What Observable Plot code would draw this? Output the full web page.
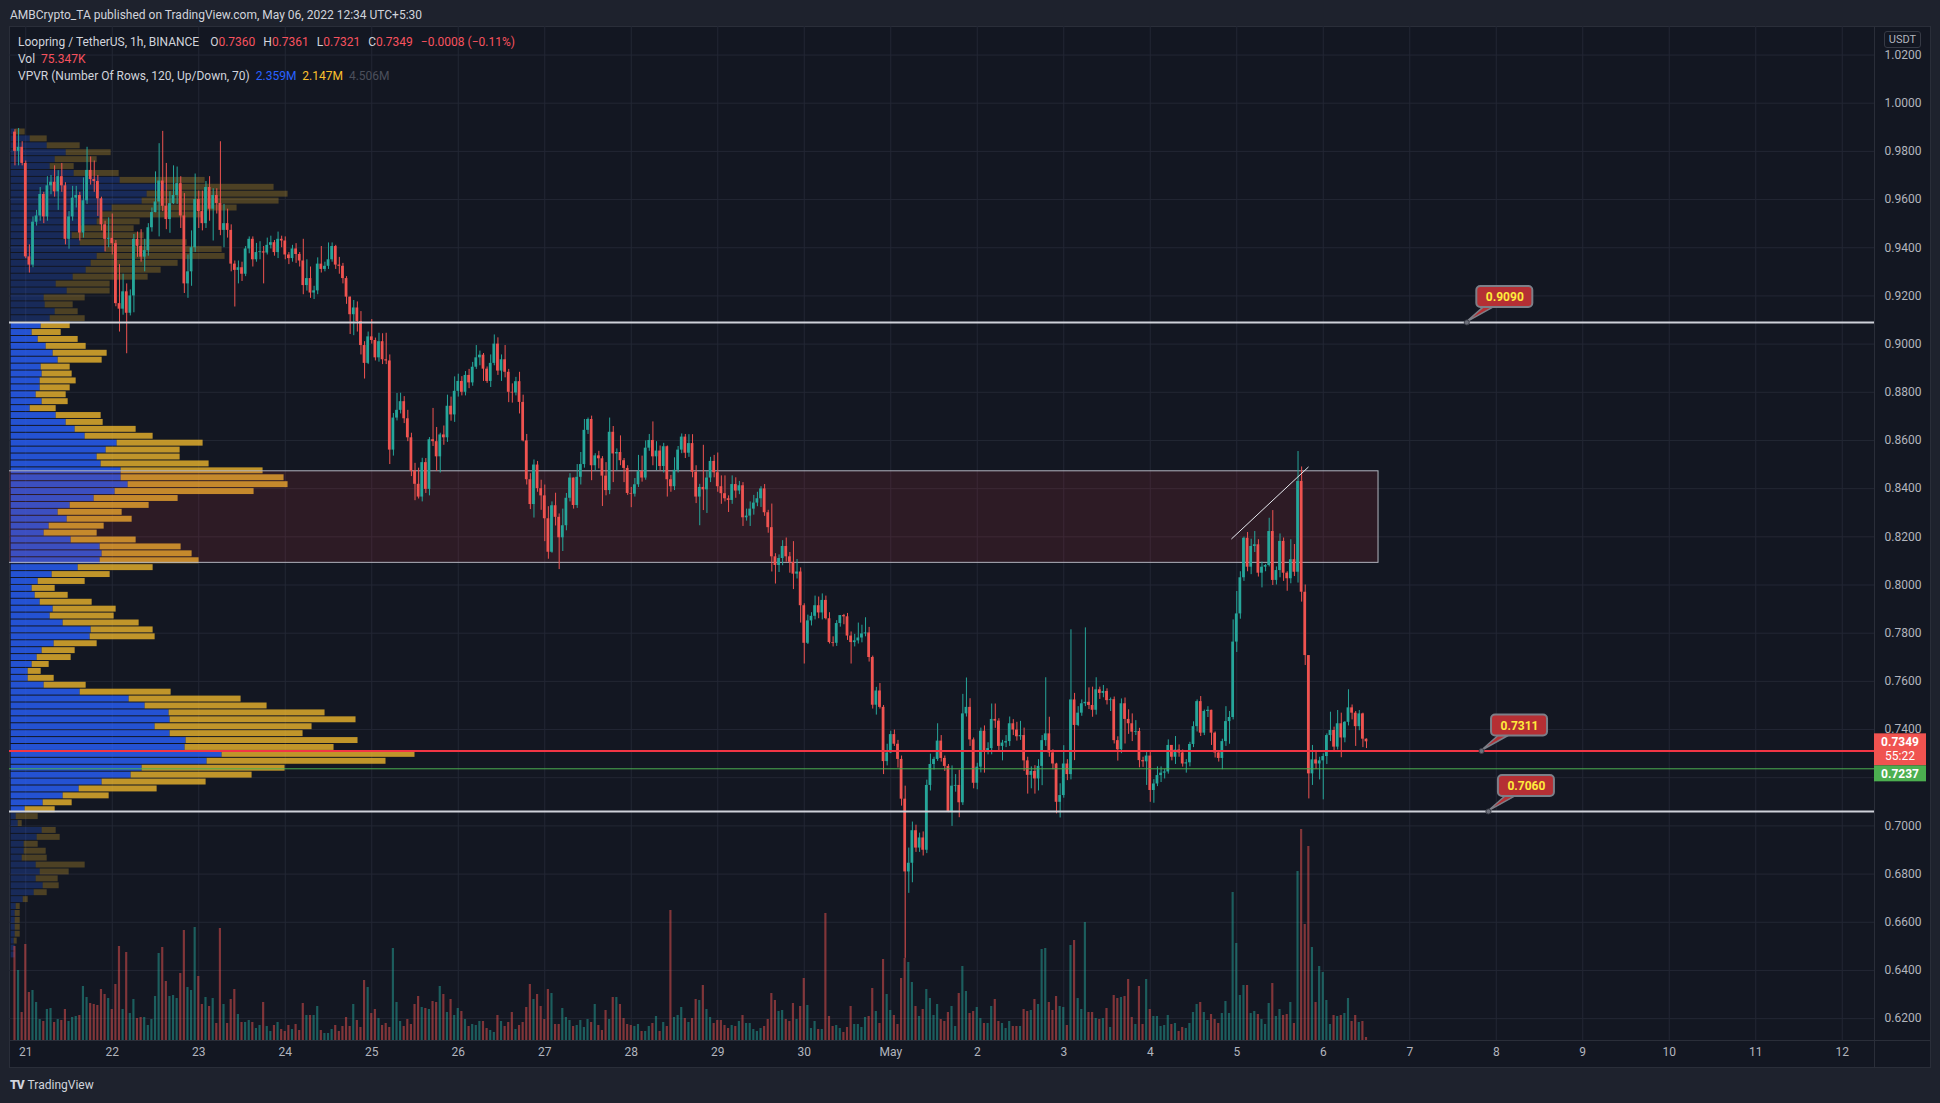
<!DOCTYPE html>
<html>
<head>
<meta charset="utf-8">
<script src="https://cdn.jsdelivr.net/npm/d3@7"></script>
<script src="https://cdn.jsdelivr.net/npm/@observablehq/plot@0.6"></script>
<style>
html, body { margin:0; padding:0; width:1940px; height:1103px; overflow:hidden; background:#1e222d; font-family: Roboto, "Noto Sans", sans-serif; }
#header { position:absolute; left:10px; top:8px; font-size:12px; color:#d1d4dc; white-space:nowrap; }
#pane { position:absolute; left:9px; top:26px; width:1922px; height:1042px; background:#131722; border:1px solid #2a2e39; box-sizing:border-box; }
#sepV { position:absolute; left:1874px; top:27px; width:1px; height:1040px; background:#2a2e39; }
#sepH { position:absolute; left:10px; top:1040px; width:1920px; height:1px; background:#2a2e39; }
.layer { position:absolute; left:0; top:26px; width:1940px; height:1042px; }
.layer svg { display:block; }
#legend { position:absolute; left:18px; top:34px; font-size:12px; line-height:17px; color:#d1d4dc; white-space:nowrap; }
#legend .r { color:#f7525f; }
#legend .b { color:#2962ff; }
#legend .y { color:#fbc02d; }
#legend .g { color:#4b4f5b; }
#legend .gap { display:inline-block; width:8px; }
#usdt { position:absolute; left:1884px; top:31px; width:35px; height:15px; border:1px solid #363a45; border-radius:3px; background:#131722; color:#b2b5be; font-size:11px; line-height:15px; text-align:center; }
#footer { position:absolute; left:10px; top:1078px; font-size:12px; color:#d1d4dc; white-space:nowrap; }
#footer b { font-weight:900; letter-spacing:-1px; margin-right:4px; }
</style>
</head>
<body>
<div id="header">AMBCrypto_TA published on TradingView.com, May 06, 2022 12:34 UTC+5:30</div>
<div id="pane"></div>
<div id="sepV"></div>
<div id="sepH"></div>
<div class="layer" id="l1"></div>
<div class="layer" id="l2"></div>
<div class="layer" id="l3"></div>
<div class="layer" id="l4"></div>
<div id="legend">
<div>Loopring / TetherUS, 1h, BINANCE<span class="gap"></span> O<span class="r">0.7360</span><span class="gap"></span>H<span class="r">0.7361</span><span class="gap"></span>L<span class="r">0.7321</span><span class="gap"></span>C<span class="r">0.7349</span><span class="gap"></span><span class="r">−0.0008 (−0.11%)</span></div>
<div>Vol <span class="r">&nbsp;75.347K</span></div>
<div>VPVR (Number Of Rows, 120, Up/Down, 70)&nbsp; <span class="b">2.359M</span>&nbsp; <span class="y">2.147M</span>&nbsp; <span class="g">4.506M</span></div>
</div>
<div id="usdt">USDT</div>
<div id="footer"><b>TV</b>TradingView</div>
<script>
// ---------------- DATA ----------------
const priceTicks = [0.62,0.64,0.66,0.68,0.70,0.72,0.74,0.76,0.78,0.80,0.82,0.84,0.86,0.88,0.90,0.92,0.94,0.96,0.98,1.00,1.02];
const coveredTickLabels = [0.72];   // hidden under the price labels in the reference
const dayLabels = ["21","22","23","24","25","26","27","28","29","30","May","2","3","4","5","6","7","8","9","10","11","12"];
const firstDayUTC = "2022-04-21T00:00:00Z";
const firstCandleUTC = "2022-04-20T21:00:00Z";   // hourly candles
const firstOpen = 0.988;

const closes = [
0.980,0.9817,0.975,0.9362,0.9328,0.9506,0.9532,0.9621,0.9528,0.9657,
0.9672,0.9632,0.9695,0.9657,0.9435,0.9528,0.9606,0.9617,0.9461,0.9595,
0.9721,0.9683,0.9675,0.9603,0.9495,0.9435,0.9439,0.9417,0.9168,0.9145,
0.9217,0.9128,0.920,0.9435,0.9406,0.9361,0.9388,0.9483,0.9546,0.959,
0.9677,0.9572,0.9517,0.9583,0.9617,0.9666,0.9532,0.925,0.930,0.940,
0.960,0.955,0.950,0.965,0.956,0.9617,0.9584,0.9472,0.950,0.9472,
0.9332,0.9306,0.9317,0.929,0.9395,0.9435,0.935,0.938,0.9383,0.9378,
0.941,0.9421,0.938,0.9435,0.9428,0.937,0.9355,0.9395,0.9372,0.9345,
0.9243,0.9272,0.9212,0.9221,0.9332,0.931,0.9323,0.935,0.9405,0.9328,
0.9323,0.9272,
0.9195,0.9122,0.915,0.9094,0.8994,0.892,0.903,0.9015,0.8943,0.901,
0.8935,0.893,0.856,0.8693,0.8725,0.8761,0.869,0.8611,0.8473,0.8418,
0.8365,0.8508,0.8397,0.8603,0.8595,0.8532,0.8623,0.8611,0.8742,0.8706,
0.8804,0.8845,0.880,0.887,0.8839,0.8904,0.8943,0.8954,0.8896,0.8845,
0.892,0.900,0.8888,0.8935,0.8883,0.880,0.8797,0.8844,0.8758,0.8598,
0.8437,0.8334,0.8498,0.840,0.837,0.8275,0.8136,0.8329,0.8281,0.8196,
0.8246,0.836,0.8444,0.833,0.8447,0.850,0.8642,0.8687,0.8495,0.8536,
0.8524,0.8452,0.8392,0.8634,0.8544,0.855,0.8516,0.8484,0.838,0.8377,
0.8416,0.8471,0.8444,0.8568,0.860,0.8532,0.8556,0.8492,0.8574,0.8437,
0.8408,0.8476,0.856,0.8614,0.8547,0.8587,0.8468,0.8365,0.8405,
0.8395,0.8444,0.8513,0.8466,0.8408,0.8379,0.8358,0.8351,0.8417,0.839,
0.8412,0.8279,0.8286,0.8315,0.834,0.8358,0.8399,0.830,0.8238,0.8117,
0.8081,0.811,0.816,0.8117,0.8094,0.8045,0.8054,0.7914,0.7758,0.7851,
0.787,0.7914,0.7884,0.7936,0.786,0.7761,0.7758,0.784,0.7873,0.7868,
0.7788,0.7761,0.7768,0.778,0.7797,0.7801,0.7699,0.7501,0.756,0.7492,
0.7267,0.7303,0.7379,0.7339,0.7276,0.7111,0.6809,0.6845,0.698,0.6908,
0.695,0.6899,0.7168,0.7255,0.7276,0.7352,0.728,0.7247,0.706,0.7165,
0.7168,0.7096,0.7465,0.7492,0.7357,0.7177,0.7244,0.7393,0.7312,0.7321,
0.7442,0.7435,0.733,0.7344,0.735,0.7424,0.7398,0.737,0.7375,0.727,
0.721,0.7226,0.7195,0.7247,
0.7354,0.7382,0.7303,0.7257,0.7098,0.7126,0.7257,0.7213,0.7523,0.7417,
0.7468,0.7507,0.7513,0.750,0.748,0.7565,0.755,0.7558,0.752,0.7524,
0.7354,0.7316,0.7507,0.7442,0.7424,0.7389,0.7392,0.7271,0.7266,0.729,
0.7147,0.7174,0.7209,0.7219,0.7224,0.7334,0.7285,0.7315,0.7303,0.7257,
0.7262,0.7338,0.7412,0.7516,0.7385,0.7475,0.748,0.7385,0.7303,0.728,
0.735,0.7433,0.745,0.7763,0.788,0.803,0.8194,0.8074,0.816,0.8167,
0.8049,0.8074,0.8081,0.8222,0.8019,0.806,0.8181,0.8049,0.8026,0.8105,
0.8053,0.843,0.797,0.7707,0.7216,0.7274,0.7257,0.727,0.7288,0.7375,
0.7396,0.7327,0.7424,0.7365,0.743,0.749,0.7468,0.7412,0.7465,0.736,
0.7349
];
const highs = [
0.989,0.9895,0.984,0.976,0.9412,0.9528,0.9555,0.965,0.963,0.9695,
0.970,0.974,0.972,0.975,0.967,0.955,0.9655,0.9655,0.963,0.969,
0.9817,0.9777,0.976,0.970,0.961,0.951,0.9524,0.954,0.943,0.933,
0.929,0.925,0.9225,0.9455,0.9465,0.9475,0.9435,0.950,0.9565,0.9715,
0.9832,0.9883,0.975,0.9633,0.974,0.9735,0.9695,0.9625,0.937,0.947,
0.9706,0.9635,0.9635,0.9675,0.9695,0.9645,0.9645,0.984,0.958,0.956,
0.9495,0.9345,0.9345,0.934,0.9405,0.9445,0.9445,0.9418,0.9425,0.9405,
0.944,0.9448,0.943,0.9465,0.9448,0.9445,0.938,0.941,0.9417,0.938,
0.9435,0.935,0.932,0.924,0.9358,0.9405,0.934,0.942,0.942,0.941,
0.936,0.9335,
0.928,0.9195,0.9181,0.9175,0.9135,0.901,0.905,0.9102,0.9025,0.9045,
0.9043,0.9045,0.8955,0.8712,0.8795,0.8796,0.8782,0.8725,0.863,0.8505,
0.8485,0.8526,0.8525,0.8612,0.8733,0.8654,0.863,0.866,0.8788,0.878,
0.8864,0.8875,0.8865,0.8886,0.8895,0.8924,0.8994,0.8971,0.8961,0.8905,
0.8955,0.9038,0.9026,0.8955,0.8994,0.8895,0.8835,0.8862,0.8883,0.8788,
0.8625,0.8462,0.8519,0.8513,0.8435,0.8415,0.8325,0.8345,0.8381,0.8295,
0.8315,0.838,0.8462,0.8416,0.850,0.855,0.8687,0.8693,0.8701,0.8545,
0.8555,0.8533,0.8508,0.8693,0.8658,0.8565,0.8619,0.8525,0.8495,0.8405,
0.8442,0.8538,0.8535,0.8598,0.8625,0.8677,0.8595,0.8577,0.8588,0.8577,
0.8455,0.8528,0.8575,0.8627,0.8625,0.8624,0.8624,0.8495,0.8418,
0.858,0.8471,0.853,0.8538,0.8548,0.8453,0.8453,0.837,0.8453,0.8445,
0.843,0.8425,0.8315,0.8345,0.8372,0.8385,0.8408,0.8417,0.831,0.8336,
0.813,0.8125,0.8184,0.8195,0.8135,0.818,0.8106,0.8071,0.7922,0.7875,
0.7885,0.7954,0.795,0.7963,0.7954,0.7885,0.7785,0.7852,0.7873,0.7878,
0.7882,0.7805,0.7795,0.7842,0.7833,0.7864,0.7824,0.7705,0.7575,0.7591,
0.750,0.7339,0.7393,0.7398,0.7355,0.729,0.7165,0.6908,0.7016,0.7003,
0.697,0.6975,0.719,0.7298,0.7285,0.7424,0.7375,0.729,0.7255,0.7249,
0.7213,0.7231,0.7546,0.7614,0.7528,0.7365,0.726,0.7406,0.7415,0.7345,
0.7506,0.7506,0.7445,0.7355,0.7375,0.7452,0.7441,0.743,0.7434,0.7406,
0.7285,0.7245,0.725,0.7275,
0.7375,0.7615,0.7451,0.7316,0.726,0.7175,0.7333,0.7275,0.7814,0.755,
0.7495,0.7523,0.7822,0.7573,0.7576,0.7615,0.7576,0.7583,0.7569,0.7531,
0.7535,0.737,0.7527,0.7531,0.7482,0.7465,0.7437,0.7405,0.7285,0.7305,
0.731,0.7192,0.7245,0.7245,0.7235,0.7357,0.7334,0.7371,0.7336,0.7315,
0.7275,0.7347,0.7432,0.7523,0.7537,0.7481,0.7495,0.7472,0.739,0.7305,
0.736,0.7495,0.7475,0.7855,0.7973,0.8055,0.8199,0.8218,0.819,0.8222,
0.8188,0.8095,0.8085,0.8277,0.8309,0.8075,0.8212,0.8195,0.8055,0.8188,
0.8168,0.8554,0.849,0.800,0.7705,0.7334,0.7313,0.7285,0.7299,0.7382,
0.7472,0.741,0.7479,0.7468,0.7433,0.7565,0.7502,0.7475,0.7479,0.7468,
0.7361
];
const lows = [
0.974,0.974,0.974,0.9355,0.9295,0.9317,0.949,0.951,0.950,0.951,
0.962,0.961,0.9555,0.963,0.9412,0.9394,0.951,0.9565,0.9428,0.944,
0.958,0.966,0.963,0.953,0.947,0.9383,0.940,0.937,0.9155,0.905,
0.912,0.896,0.9117,0.913,0.936,0.934,0.930,0.9365,0.9465,0.9545,
0.9445,0.955,0.9475,0.946,0.958,0.958,0.948,0.921,0.919,0.924,
0.938,0.948,0.947,0.948,0.951,0.9428,0.954,0.945,0.940,0.944,
0.930,0.9154,0.925,0.926,0.928,0.9375,0.932,0.934,0.935,0.925,
0.937,0.9395,0.9365,0.9355,0.940,0.935,0.933,0.934,0.9335,0.932,
0.9205,0.922,0.919,0.9185,0.9205,0.9295,0.930,0.931,0.934,0.931,
0.929,0.925,
0.9165,0.904,0.9035,0.905,0.8955,0.8855,0.8915,0.900,0.893,0.8925,
0.8915,0.8915,0.850,0.8535,0.8681,0.871,0.867,0.8595,0.845,0.835,
0.8357,0.8345,0.838,0.837,0.8575,0.8472,0.8465,0.858,0.8592,0.868,
0.8675,0.878,0.8785,0.8785,0.8815,0.8825,0.8895,0.891,0.8845,0.8837,
0.882,0.891,0.887,0.8845,0.886,0.8757,0.8755,0.8785,0.871,0.8594,
0.8415,0.8313,0.8278,0.8385,0.831,0.818,0.8107,0.8132,0.8245,0.8064,
0.8139,0.8225,0.8345,0.8315,0.8318,0.8415,0.8485,0.8625,0.8433,0.8475,
0.8482,0.8326,0.837,0.8375,0.8425,0.8475,0.8495,0.8425,0.8372,0.8321,
0.8365,0.8405,0.8427,0.8435,0.8555,0.8495,0.8475,0.8475,0.8465,0.8365,
0.8385,0.8392,0.8465,0.8545,0.8525,0.853,0.8445,0.8338,0.8246,
0.8309,0.8297,0.8425,0.8445,0.8385,0.8335,0.8345,0.8301,0.8335,0.836,
0.8375,0.8243,0.8265,0.8243,0.829,0.8325,0.8322,0.8285,0.8215,0.8054,
0.8004,0.8052,0.808,0.8095,0.8049,0.7981,0.8025,0.7842,0.7672,0.7753,
0.783,0.7855,0.786,0.7855,0.7855,0.7755,0.7743,0.7745,0.7825,0.7835,
0.777,0.7672,0.7743,0.7755,0.776,0.7785,0.768,0.7485,0.746,0.7485,
0.7213,0.7249,0.730,0.733,0.724,0.7082,0.645,0.672,0.6764,0.689,
0.689,0.6875,0.6885,0.7145,0.7232,0.7268,0.7265,0.7226,0.7055,0.6998,
0.714,0.7034,0.7085,0.7452,0.733,0.7154,0.715,0.722,0.7219,0.7295,
0.7295,0.7405,0.7312,0.727,0.7325,0.733,0.7375,0.7352,0.7355,0.7226,
0.7132,0.7154,0.7132,0.7145,
0.7167,0.733,0.7285,0.7233,0.705,0.7033,0.7115,0.7188,0.7191,0.7271,
0.7412,0.7455,0.7495,0.7483,0.7451,0.746,0.7525,0.7532,0.7502,0.7475,
0.734,0.7269,0.730,0.734,0.738,0.735,0.7375,0.7241,0.7243,0.7168,
0.7098,0.7094,0.7163,0.718,0.7195,0.7215,0.727,0.7255,0.7285,0.7244,
0.7219,0.7245,0.7325,0.739,0.7371,0.7375,0.745,0.7334,0.7282,0.7265,
0.7233,0.733,0.7339,0.744,0.772,0.7858,0.8015,0.8055,0.8043,0.8135,
0.8033,0.7988,0.8055,0.8075,0.7998,0.800,0.803,0.8015,0.7974,0.8005,
0.8035,0.8008,0.7929,0.7666,0.7112,0.7168,0.7235,0.7191,0.7108,0.7255,
0.735,0.7305,0.7315,0.7283,0.7345,0.7415,0.744,0.733,0.7395,0.7325,
0.7321
];
// hourly volume, thousands of LRC
const volumesK = [
2350,1750,700,2400,1200,1250,950,525,475,775,
800,450,525,500,775,475,575,600,625,1350,
1075,925,900,875,1275,1150,1050,775,1400,2350,
775,2200,675,1025,550,575,575,375,525,1100,
2175,2325,1475,1100,1125,1050,1675,2750,1325,1250,
2825,1600,900,1075,850,1050,425,2800,900,425,
1025,1275,650,450,450,500,450,300,375,950,
350,225,375,450,275,225,375,275,400,250,
925,625,625,625,850,250,175,175,275,375,
225,350,575,350,900,500,325,1500,1325,675,
775,550,375,425,325,2300,950,475,350,525,
400,900,1100,825,800,775,975,950,1350,1150,
700,1025,625,800,725,525,350,400,375,475,
475,300,250,200,625,475,350,450,700,275,
375,450,825,1400,1025,1150,850,525,1275,1175,
400,400,800,575,500,350,375,500,325,525,
450,900,375,250,750,525,1075,1075,900,550,
400,375,350,400,225,225,350,425,600,225,
450,350,3250,575,625,825,550,450,550,
1025,1000,1375,775,575,425,500,500,375,300,
375,350,475,625,425,425,275,225,300,350,
525,1175,1000,725,750,525,475,925,525,850,
1550,875,300,475,275,275,3175,600,350,375,
300,200,325,850,400,400,325,575,600,1300,
725,425,2025,1150,750,625,400,1550,2050,1950,
1450,850,600,775,1275,1050,625,900,525,475,
700,850,350,1175,1850,1225,675,725,825,550,
425,425,850,1025,475,425,300,475,350,350,
350,775,725,750,1025,900,2275,2300,950,750,
1100,850,825,375,2375,2500,1050,775,2950,700,
700,550,525,550,800,325,1125,1050,1075,1100,
1525,575,400,1350,400,1525,775,600,600,350,
375,625,400,425,225,325,300,425,700,900,
950,700,500,650,525,425,675,975,675,3700,
2425,1125,1375,1375,675,725,650,525,400,925,
1425,600,775,625,650,950,425,4225,5275,2900,
4850,2325,950,1850,1700,1000,400,625,600,625,
675,1050,475,625,450,475,75.347
];
// VPVR: 120 rows from the top of the visible range downwards (relative volume)
const vpHigh = 0.9895, vpLow = 0.645;
const vaHigh = 0.909, vaLow = 0.706;
const vpUp = [
4,19,36,55,44,39,63,109,155,136,
131,101,89,86,69,61,69,94,86,80,
75,62,45,56,33,34,44,39,30,21,
27,35,42,47,30,31,29,29,25,31,
19,45,55,64,74,106,95,86,90,110,
110,117,104,83,59,47,56,38,33,60,
89,91,89,67,41,27,21,24,29,42,
39,52,80,79,43,31,26,21,17,17,
33,69,118,134,158,159,144,159,175,174,
211,196,131,120,91,68,52,32,14,5,
7,31,26,13,13,11,25,29,25,32,
23,12,5,4,4,4,4,3,4,4
];
const vpDown = [
10,17,33,45,42,24,45,85,108,141,
137,125,103,43,54,72,107,117,128,87,
75,75,54,43,41,28,23,35,29,29,
40,40,54,44,29,30,36,30,30,26,
26,45,37,61,68,86,74,83,108,142,
163,160,139,84,79,64,65,55,53,65,
81,90,99,75,58,47,23,33,52,63,
64,76,62,65,43,33,34,17,13,26,
42,91,112,122,156,186,157,133,172,149,
193,179,143,121,104,78,46,29,30,22,
4,14,23,14,22,25,49,29,22,16,
13,5,4,5,5,5,5,3,0,0
];
// drawn objects
const boxLow = 0.8092, boxHigh = 0.8472;
const boxStart = "2022-04-19T00:00:00Z", boxEnd = "2022-05-06T15:20:00Z";
const trendTimes = ["2022-05-04T22:35:00Z","2022-05-05T19:50:00Z"];
const trendPrices = [0.8192, 0.8489];
const whiteLevels = [0.909, 0.706];
const redLevel = 0.7311;
const greenLevel = 0.7237;
const calloutPrices = [0.909, 0.7311, 0.706];
const calloutLabels = ["0.9090","0.7311","0.7060"];
const calloutTimes = ["2022-05-07T15:50:00Z","2022-05-07T19:55:00Z","2022-05-07T21:50:00Z"];
const lastPrice = 0.7349, lastPriceText = "0.7349", countdown = "55:22";
const refPriceText = "0.7237";

// ---------------- BUILD ----------------
const UP = "#26a69a", DOWN = "#ef5350";
const HOUR = 3600e3, DAY = 864e5;
const t0 = Date.parse(firstCandleUTC);
const candles = closes.map((c, i) => {
  const o = i ? closes[i - 1] : firstOpen;
  return {t: new Date(t0 + i * HOUR), o, c,
    h: Math.max(highs[i], o, c), l: Math.min(lows[i], o, c),
    v: volumesK[i], up: c >= o};
});
const d0 = Date.parse(firstDayUTC);
const dayTicks = dayLabels.map((_, i) => new Date(d0 + i * DAY));
const labelOf = new Map(dayTicks.map((d, i) => [+d, dayLabels[i]]));
const rowH = (vpHigh - vpLow) / vpUp.length;
const vpRows = vpUp.map((u, i) => {
  const hi = vpHigh - i * rowH, lo = hi - rowH, mid = (hi + lo) / 2;
  return {hi, lo, up: u, down: vpDown[i], va: mid >= vaLow && mid <= vaHigh};
});

const xDomain = [new Date("2022-04-20T19:29:00Z"), new Date("2022-05-12T08:57:00Z")];
const yDomain = [0.61092, 1.03184];
const common = {
  width: 1940, height: 1042, marginLeft: 9, marginRight: 66, marginTop: 0, marginBottom: 28,
  style: {background: "none", fontFamily: "Roboto, 'Noto Sans', sans-serif", fontSize: "12px", color: "#b2b5be", overflow: "visible"}
};

// layer 1: grid and axes
const basePlot = Plot.plot({
  ...common,
  x: {type: "utc", domain: xDomain},
  y: {domain: yDomain},
  marks: [
    Plot.ruleY(priceTicks, {stroke: "#232734"}),
    Plot.ruleX(dayTicks, {stroke: "#232734"}),
    Plot.axisY(priceTicks.filter(t => !coveredTickLabels.includes(t)),
      {anchor: "right", tickSize: 0, tickPadding: 10, tickFormat: d => d.toFixed(4)}),
    Plot.axisX(dayTicks, {anchor: "bottom", tickSize: 0, tickPadding: 7, tickFormat: d => labelOf.get(+d)})
  ]
});
document.getElementById("l1").append(basePlot);

// layer 2: volume profile (visible range)
const vpPlot = Plot.plot({
  ...common,
  x: {domain: [0, 404], range: [10.7, 414.5], axis: null},
  y: {domain: yDomain, axis: null},
  marks: [
    Plot.rect(vpRows, {x1: 0, x2: "up", y1: "lo", y2: "hi", fill: "#2962ff",
      fillOpacity: d => d.va ? 0.8 : 0.25, insetTop: 0.5, insetBottom: 0.5}),
    Plot.rect(vpRows, {x1: "up", x2: d => d.up + d.down, y1: "lo", y2: "hi", fill: "#fbc02d",
      fillOpacity: d => d.va ? 0.75 : 0.25, insetTop: 0.5, insetBottom: 0.5})
  ]
});
document.getElementById("l2").append(vpPlot);

// layer 3: volume
const volPlot = Plot.plot({
  ...common,
  x: {type: "utc", domain: xDomain, axis: null},
  y: {domain: [0, 5275], range: [1014, 803], axis: null},
  marks: [
    Plot.rect(candles, {x1: d => new Date(+d.t - 18 * 60e3), x2: d => new Date(+d.t + 18 * 60e3),
      y1: 0, y2: "v", fill: d => d.up ? UP : DOWN, fillOpacity: 0.5})
  ]
});
document.getElementById("l3").append(volPlot);

// layer 4: box, candles, levels, drawings
const callouts = calloutPrices.map((p, i) => ({p, t: new Date(calloutTimes[i]), label: calloutLabels[i]}));
const trend = trendTimes.map((t, i) => ({t: new Date(t), p: trendPrices[i]}));
const pricePlot = Plot.plot({
  ...common,
  x: {type: "utc", domain: xDomain, axis: null},
  y: {domain: yDomain, axis: null},
  marks: [
    Plot.rect([{t1: new Date(boxStart), t2: new Date(boxEnd), lo: boxLow, hi: boxHigh}],
      {x1: "t1", x2: "t2", y1: "lo", y2: "hi", fill: "#f23645", fillOpacity: 0.12, stroke: "#b2b5be", strokeWidth: 1, clip: true}),
    Plot.ruleX(candles, {x: "t", y1: "l", y2: "h", stroke: d => d.up ? UP : DOWN, strokeWidth: 1}),
    Plot.rect(candles, {x1: d => new Date(+d.t - 23 * 60e3), x2: d => new Date(+d.t + 23 * 60e3),
      y1: "o", y2: "c", fill: d => d.up ? UP : DOWN}),
    Plot.ruleY(whiteLevels, {stroke: "#cfd2d9", strokeWidth: 2}),
    Plot.ruleY([greenLevel], {stroke: "#4caf50", strokeWidth: 1}),
    Plot.ruleY([redLevel], {stroke: "#f23645", strokeWidth: 2}),
    Plot.line(trend, {x: "t", y: "p", stroke: "#e6e8ee", strokeWidth: 1}),
    Plot.dot(callouts, {x: "t", y: "p", r: 2.5, fill: "#6d707b", stroke: "#3b3e48", strokeWidth: 1}),
    Plot.text(callouts, {x: "t", y: "p", text: "label", dx: 38, dy: -25, fill: "#ffeb3b", fontWeight: "bold", fontSize: 12})
  ]
});
document.getElementById("l4").append(pricePlot);

// callout bubbles and price-axis labels, positioned with the plot's scales
(function () {
  const sx = pricePlot.scale("x"), sy = pricePlot.scale("y");
  const fx = sx.apply ? v => sx.apply(v) : d3.scaleUtc(sx.domain, sx.range);
  const fy = sy.apply ? v => sy.apply(v) : d3.scaleLinear(sy.domain, sy.range);
  const svg = d3.select(pricePlot);
  const dotG = pricePlot.querySelector('g[aria-label="dot"]');
  const g = document.createElementNS("http://www.w3.org/2000/svg", "g");
  pricePlot.insertBefore(g, dotG);
  const deco = d3.select(g);
  callouts.forEach(d => {
    const X = fx(d.t), Y = fy(d.p);
    deco.append("path").attr("d", `M${X},${Y} L${X + 17},${Y - 15} L${X + 27},${Y - 15} Z`)
      .attr("fill", "#b52f34").attr("stroke", "#7c7f88").attr("stroke-width", 1.5).attr("stroke-linejoin", "round");
    deco.append("rect").attr("x", X + 10).attr("y", Y - 36).attr("width", 56).attr("height", 21).attr("rx", 4)
      .attr("fill", "#b52f34").attr("stroke", "#7c7f88").attr("stroke-width", 2);
  });
  const axisX0 = 1874;
  const Yc = fy(lastPrice);
  svg.append("rect").attr("x", axisX0).attr("y", Yc - 8).attr("width", 52).attr("height", 32).attr("fill", "#f05350");
  svg.append("text").attr("x", axisX0 + 26).attr("y", Yc).attr("dy", "0.35em").attr("text-anchor", "middle")
    .attr("fill", "#ffffff").attr("font-weight", "bold").attr("font-size", 12).text(lastPriceText);
  svg.append("text").attr("x", axisX0 + 26).attr("y", Yc + 14).attr("dy", "0.35em").attr("text-anchor", "middle")
    .attr("fill", "#ffffff").attr("font-size", 12).text(countdown);
  svg.append("rect").attr("x", axisX0).attr("y", Yc + 24).attr("width", 52).attr("height", 16).attr("fill", "#4caf50");
  svg.append("text").attr("x", axisX0 + 26).attr("y", Yc + 32).attr("dy", "0.35em").attr("text-anchor", "middle")
    .attr("fill", "#ffffff").attr("font-weight", "bold").attr("font-size", 12).text(refPriceText);
})();
</script>
</body>
</html>
